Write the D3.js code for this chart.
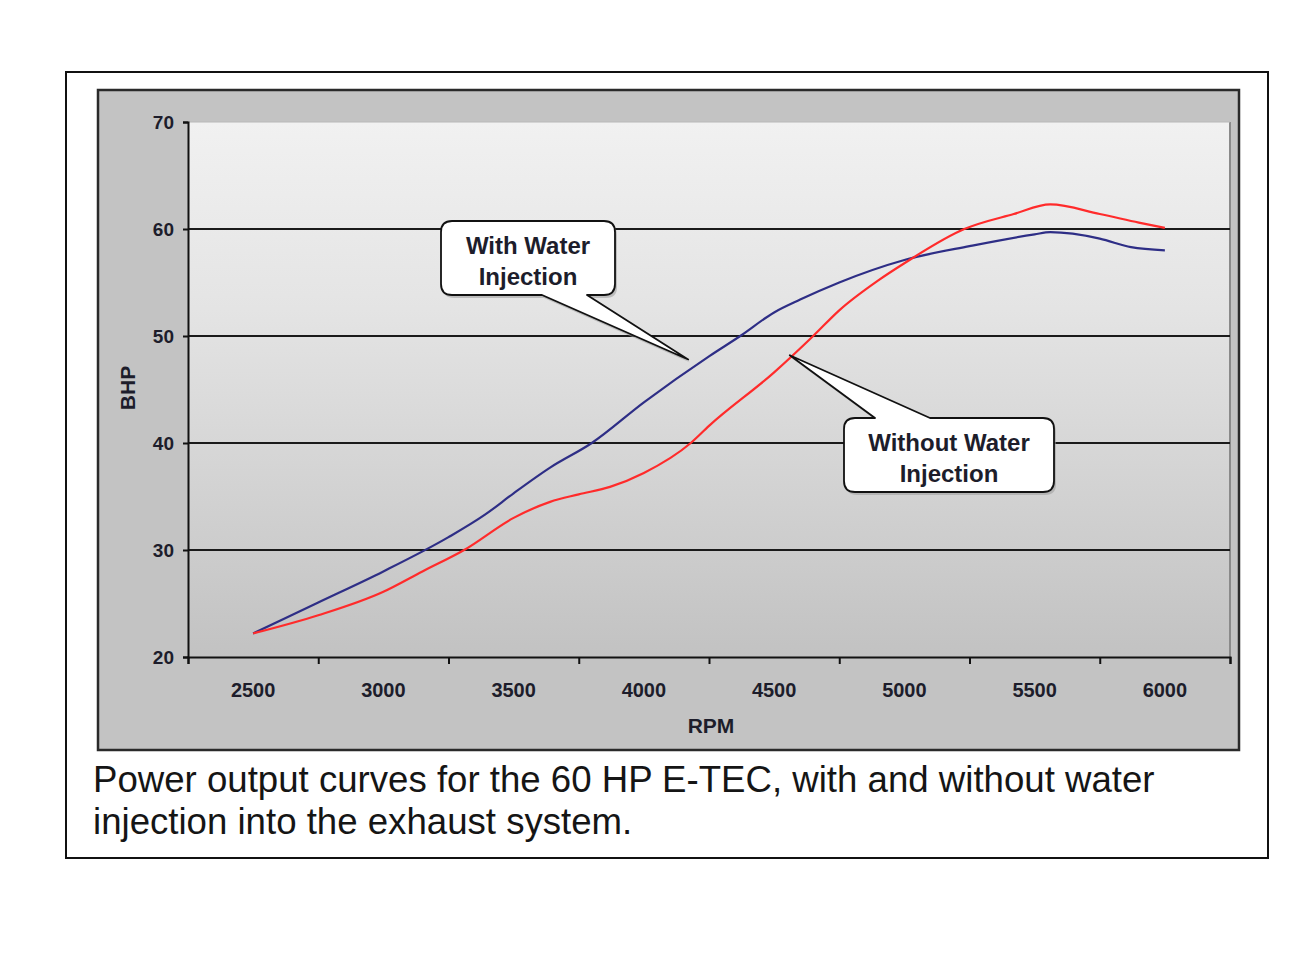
<!DOCTYPE html>
<html>
<head>
<meta charset="utf-8">
<script src="https://cdn.jsdelivr.net/npm/d3@7"></script>
<style>
  html, body { margin: 0; padding: 0; background: #fff; }
  svg { display: block; font-family: Arial, "Liberation Sans", sans-serif; }
</style>
</head>
<body>
<svg id="chart" width="1300" height="975"></svg>
<script>
// ---- Data ----
const withWaterRpm = [2500, 2750, 3000, 3250, 3390, 3500, 3640, 3800, 4000, 4250, 4370, 4500, 4600, 4750, 5000, 5250, 5500, 5560, 5750, 5870, 6000];
const withWaterBhp = [22.2, 25.1, 28.0, 31.2, 33.3, 35.3, 37.7, 40.0, 43.8, 48.1, 50.0, 52.2, 53.4, 55.0, 57.1, 58.4, 59.5, 59.7, 59.1, 58.3, 58.0];

const withoutWaterRpm = [2500, 2750, 3000, 3150, 3310, 3500, 3640, 3750, 3870, 4000, 4180, 4250, 4500, 4650, 4750, 4900, 5000, 5230, 5420, 5560, 5750, 5900, 6000];
const withoutWaterBhp = [22.2, 23.9, 26.1, 28.0, 30.0, 33.0, 34.5, 35.2, 35.9, 37.2, 40.0, 41.6, 46.6, 50.0, 52.4, 55.2, 56.8, 60.0, 61.4, 62.3, 61.4, 60.6, 60.1];

const xTickMarks = [2250, 2750, 3250, 3750, 4250, 4750, 5250, 5750, 6250];
const xTickLabels = [2500, 3000, 3500, 4000, 4500, 5000, 5500, 6000];
const yTicks = [20, 30, 40, 50, 60, 70];
const gridValues = [30, 40, 50, 60];

const calloutWith = { lines: ["With Water", "Injection"], rpm: 4170, bhp: 47.8 };
const calloutWithout = { lines: ["Without Water", "Injection"], rpm: 4560, bhp: 48.2 };

const captionLines = [
  "Power output curves for the 60 HP E-TEC, with and without water",
  "injection into the exhaust system."
];

// ---- Layout ----
const svg = d3.select("#chart");
const plot = { x0: 188, x1: 1230, y0: 122, y1: 657 };

const x = d3.scaleLinear().domain([2250, 6250]).range([plot.x0, plot.x1]);
const y = d3.scaleLinear().domain([20, 70]).range([plot.y1, plot.y0]);

const defs = svg.append("defs");
const grad = defs.append("linearGradient").attr("id", "plotGrad")
  .attr("x1", 0).attr("y1", 0).attr("x2", 0).attr("y2", 1);
grad.append("stop").attr("offset", "0%").attr("stop-color", "#f1f1f1");
grad.append("stop").attr("offset", "35%").attr("stop-color", "#e4e4e4");
grad.append("stop").attr("offset", "100%").attr("stop-color", "#c2c2c2");

// outer frame
svg.append("rect").attr("x", 66).attr("y", 72).attr("width", 1202).attr("height", 786)
  .attr("fill", "#fff").attr("stroke", "#111").attr("stroke-width", 2);

// chart area
svg.append("rect").attr("x", 98).attr("y", 90).attr("width", 1141).attr("height", 660)
  .attr("fill", "#c3c3c3").attr("stroke", "#2a2a2a").attr("stroke-width", 2.5);

// plot area
svg.append("rect").attr("x", plot.x0).attr("y", plot.y0)
  .attr("width", plot.x1 - plot.x0).attr("height", plot.y1 - plot.y0)
  .attr("fill", "url(#plotGrad)");
svg.append("line").attr("x1", plot.x1).attr("x2", plot.x1).attr("y1", plot.y0).attr("y2", plot.y1)
  .attr("stroke", "#8a8a8a").attr("stroke-width", 2);
svg.append("line").attr("x1", plot.x0).attr("x2", plot.x1).attr("y1", plot.y0).attr("y2", plot.y0)
  .attr("stroke", "#b8b8b8").attr("stroke-width", 1);

// gridlines
svg.append("g").selectAll("line").data(gridValues).join("line")
  .attr("x1", plot.x0).attr("x2", plot.x1)
  .attr("y1", d => y(d)).attr("y2", d => y(d))
  .attr("stroke", "#1a1a1a").attr("stroke-width", 1.8);

// Y axis
const yAxis = d3.axisLeft(y).tickValues(yTicks).tickSize(5).tickFormat(d3.format("d"));
const gy = svg.append("g").attr("transform", `translate(${plot.x0},0)`).call(yAxis);
gy.select(".domain").attr("stroke", "#111").attr("stroke-width", 2);
gy.selectAll(".tick line").attr("stroke", "#111").attr("stroke-width", 2);
gy.selectAll(".tick text").attr("x", -14).attr("font-size", 19).attr("font-weight", "bold")
  .attr("fill", "#1d1d2b").attr("font-family", "Arial, 'Liberation Sans', sans-serif");

// X axis tick marks
const xAxis = d3.axisBottom(x).tickValues(xTickMarks).tickSize(7).tickFormat("");
const gx = svg.append("g").attr("transform", `translate(0,${plot.y1})`).call(xAxis);
gx.select(".domain").attr("stroke", "#111").attr("stroke-width", 2);
gx.selectAll(".tick line").attr("stroke", "#111").attr("stroke-width", 2);

// X tick labels (centred between marks)
svg.append("g").selectAll("text").data(xTickLabels).join("text")
  .attr("x", d => x(d)).attr("y", 690)
  .attr("text-anchor", "middle").attr("dominant-baseline", "central")
  .attr("font-size", 20).attr("font-weight", "bold").attr("fill", "#1d1d2b")
  .text(d => d);

// axis titles
svg.append("text").attr("transform", "translate(127,388) rotate(-90)")
  .attr("text-anchor", "middle").attr("dominant-baseline", "central")
  .attr("font-size", 21).attr("font-weight", "bold").attr("fill", "#1d1d2b").text("BHP");
svg.append("text").attr("x", 711).attr("y", 725)
  .attr("text-anchor", "middle").attr("dominant-baseline", "central")
  .attr("font-size", 21).attr("font-weight", "bold").attr("fill", "#1d1d2b").text("RPM");

// series
const line = d3.line().x(d => x(d[0])).y(d => y(d[1])).curve(d3.curveMonotoneX);
const withData = d3.zip(withWaterRpm, withWaterBhp);
const withoutData = d3.zip(withoutWaterRpm, withoutWaterBhp);

svg.append("path").datum(withData).attr("d", line)
  .attr("fill", "none").attr("stroke", "#2e2e86").attr("stroke-width", 2.2);
svg.append("path").datum(withoutData).attr("d", line)
  .attr("fill", "none").attr("stroke", "#ff2b2b").attr("stroke-width", 2.2);

// callouts
function calloutPath(b, tip, base, side) {
  const r = 11;
  const p = d3.path();
  p.moveTo(b.x0 + r, b.y0);
  if (side === "top") { p.lineTo(base[0], b.y0); p.lineTo(tip[0], tip[1]); p.lineTo(base[1], b.y0); }
  p.lineTo(b.x1 - r, b.y0);
  p.quadraticCurveTo(b.x1, b.y0, b.x1, b.y0 + r);
  p.lineTo(b.x1, b.y1 - r);
  p.quadraticCurveTo(b.x1, b.y1, b.x1 - r, b.y1);
  if (side === "bottom") { p.lineTo(base[1], b.y1); p.lineTo(tip[0], tip[1]); p.lineTo(base[0], b.y1); }
  p.lineTo(b.x0 + r, b.y1);
  p.quadraticCurveTo(b.x0, b.y1, b.x0, b.y1 - r);
  p.lineTo(b.x0, b.y0 + r);
  p.quadraticCurveTo(b.x0, b.y0, b.x0 + r, b.y0);
  p.closePath();
  return p.toString();
}

function drawCallout(c, box, base, side) {
  const tip = [x(c.rpm), y(c.bhp)];
  const d = calloutPath(box, tip, base, side);
  const g = svg.append("g");
  g.append("path").attr("d", d).attr("transform", "translate(2,3)")
    .attr("fill", "#9a9a9a").attr("opacity", 0.55);
  g.append("path").attr("d", d).attr("fill", "#fff")
    .attr("stroke", "#111").attr("stroke-width", 1.8).attr("stroke-linejoin", "round");
  const cx = (box.x0 + box.x1) / 2;
  c.lines.forEach((t, i) => {
    g.append("text").attr("x", cx).attr("y", box.y0 + 24 + i * 31)
      .attr("text-anchor", "middle").attr("dominant-baseline", "central")
      .attr("font-size", 24).attr("font-weight", "bold").attr("fill", "#1d1d2b").text(t);
  });
}

drawCallout(calloutWith, { x0: 441, y0: 221, x1: 615, y1: 295 }, [542, 587], "bottom");
drawCallout(calloutWithout, { x0: 844, y0: 418, x1: 1054, y1: 492 }, [875, 930], "top");

// caption
const cap = svg.append("g");
const t1 = cap.append("text").attr("x", 93).attr("y", 792).attr("font-size", 30)
  .attr("fill", "#151515").text(captionLines[0]);
const w1 = t1.node().getComputedTextLength();
const fs = 30 * 1062 / w1;
t1.attr("font-size", fs);
cap.append("text").attr("x", 93).attr("y", 834).attr("font-size", fs)
  .attr("fill", "#151515").text(captionLines[1]);
</script>
</body>
</html>
